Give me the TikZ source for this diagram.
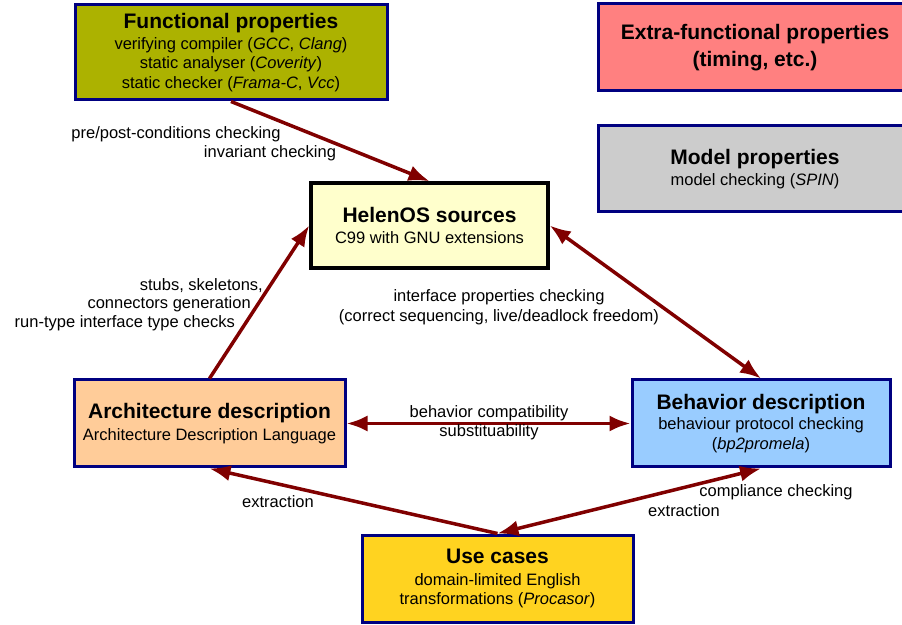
\documentclass[tikz,border=0pt]{standalone}
\usepackage{fontspec}
\setmainfont{Liberation Sans}
\usetikzlibrary{arrows.meta}
\definecolor{navyline}{RGB}{0,0,128}
\definecolor{maroonline}{RGB}{128,0,0}
\definecolor{funcfill}{RGB}{172,178,0}
\definecolor{extrafill}{RGB}{255,128,128}
\definecolor{modelfill}{RGB}{204,204,204}
\definecolor{srcfill}{RGB}{255,255,204}
\definecolor{archfill}{RGB}{255,204,153}
\definecolor{behavfill}{RGB}{153,204,255}
\definecolor{usefill}{RGB}{255,211,32}
\tikzset{
	prop/.style     = {draw=navyline, line width=3pt, rectangle, align=center,
		minimum height=87pt, inner sep=2pt},
	src/.style      = {draw=black, line width=3.5pt, rectangle, align=center,
		minimum height=85pt, minimum width=237pt, fill=srcfill},
	lbl/.style      = {align=center, inner sep=0pt}, % edge label
	link/.style     = {draw=maroonline, line width=3.5pt} % connector
}
\newcommand{\ptitle}[1]{{\fontsize{21}{25}\selectfont\bfseries #1}}

\begin{document}
\begin{tikzpicture}[x=1pt, y=1pt, >={Latex[length=21pt,width=16pt]},
	every node/.style={font=\fontsize{16.5}{19.5}\selectfont}]
	\useasboundingbox (0,0) rectangle (902,624);
		\draw
		node at (231,571.5) [prop, fill=funcfill, minimum width=312pt, minimum height=95pt] (func)
			{\ptitle{Functional properties}\\[1pt] verifying compiler (\textit{GCC}, \textit{Clang})\\
			static analyser (\textit{Coverity})\\ static checker (\textit{Frama-C}, \textit{Vcc})}
		node at (755,576.5) [prop, fill=extrafill, minimum width=314pt] (extra)
			{\ptitle{Extra-functional properties}\\[6pt] \ptitle{(timing, etc.)}}
		node at (755,455) [prop, fill=modelfill, minimum width=314pt, minimum height=86pt] (model)
			{\ptitle{Model properties}\\[2pt] model checking (\textit{SPIN})}
		node at (429.5,398.5) [src] (helen)
			{\ptitle{HelenOS sources}\\[2pt] C99 with GNU extensions}
		node at (209.5,200.5) [prop, fill=archfill, minimum width=271pt] (arch)
			{\ptitle{Architecture description}\\[3pt] Architecture Description Language}
		node at (761,200.5) [prop, fill=behavfill, minimum width=258pt] (behav)
			{\ptitle{Behavior description}\\[1pt] behaviour protocol checking\\ (\textit{bp2promela})}
		node at (497.5,45.5) [prop, fill=usefill, minimum width=271pt] (usecase)
			{\ptitle{Use cases}\\[2pt] domain-limited English\\ transformations (\textit{Procasor})};
		
		\draw[link, ->](func.south)--(helen.north);
		\draw[link, ->](arch.north)--(helen.west);
		\draw[link, <->](helen.east)--(behav.north);
		\draw[link, <->](arch.east)--(behav.west);
		\draw[link, ->](usecase.north)--(arch.south);
		\draw[link, <->](usecase.north)--(behav.south);
		
		\draw
		node at (176,490) [lbl] (lblpre) {pre/post-conditions checking}
		node at (270,471) [lbl] (lblinv) {invariant checking}
		node at (263,338) [lbl, anchor=east] (lblstubs) {stubs, skeletons,}
		node at (251,320) [lbl, anchor=east] (lblconn) {connectors generation}
		node at (235,301) [lbl, anchor=east] (lblrun) {run-type interface type checks}
		node at (499,317) [lbl] (lblintf) {interface properties checking\\ (correct sequencing, live/deadlock freedom)}
		node at (489,201.5) [lbl] (lblcompat) {behavior compatibility\\ substituability}
		node at (278,122) [lbl] (lblextrl) {extraction}
		node at (776,132) [lbl] (lblcompl) {compliance checking}
		node at (684,113) [lbl] (lblextrr) {extraction};
		
	\end{tikzpicture}
\end{document}
